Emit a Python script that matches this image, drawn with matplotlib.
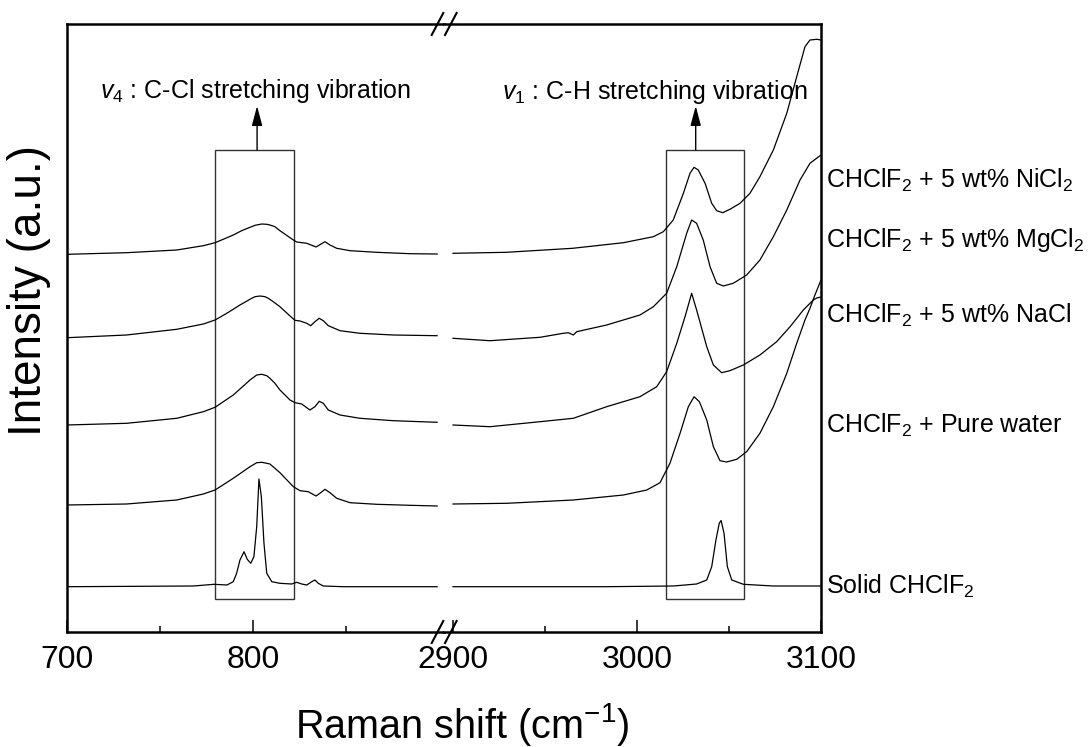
import matplotlib
matplotlib.use("Agg")
import matplotlib.pyplot as plt
import matplotlib.transforms as mtransforms
from matplotlib.patches import Rectangle, FancyArrowPatch
from matplotlib.lines import Line2D

plt.rcParams['font.family'] = ['Liberation Sans', 'DejaVu Sans']
plt.rcParams['mathtext.fontset'] = 'custom'
plt.rcParams['mathtext.rm'] = 'Liberation Sans'
plt.rcParams['mathtext.it'] = 'Liberation Sans:italic'
plt.rcParams['mathtext.bf'] = 'Liberation Sans:bold'

# ---------------- data (Raman shift in cm-1, intensity in a.u. with vertical offsets) --------
solid_low_x = [700, 768, 779, 786, 789.4, 791.2, 793, 795.2, 796.9, 798.8, 800.5, 802, 803.2,
               804.5, 805.9, 807.4, 810.1, 814.5, 820.8, 823.5, 826.2, 828.9, 831.6, 833.3,
               835.1, 837.8, 848.5, 899]
solid_low_y = [45.3, 46, 47.7, 47, 50.3, 58.7, 72, 80.3, 72.7, 68.7, 75.3, 105.3, 153,
               135.3, 88.7, 58.7, 50.3, 48.7, 48, 49.7, 48, 47, 50.3, 52,
               48.7, 46, 45.3, 45.3]
solid_high_x = [2900, 2983.5, 3019.7, 3032.4, 3037.9, 3040.6, 3042.9, 3044.7, 3045.7, 3047.3,
                3049.1, 3051.5, 3057.8, 3074.1, 3100]
solid_high_y = [45.3, 45.3, 46, 48, 52, 65.3, 92, 108.7, 111.5, 98.7,
                65.3, 52, 47.7, 46, 46]

water_low_x = [700, 732, 759, 773.3, 779.6, 789.4, 798.4, 802, 804.7, 807.4, 809.1, 811.8,
               814.5, 821.7, 825.3, 829.7, 833.9, 836, 838.7, 841.4, 845, 852.2, 866.5,
               884.4, 899]
water_low_y = [127, 128, 132, 138, 142, 153.7, 165.3, 169.3, 169.7, 168.7, 168, 163.7,
               159.3, 145.3, 141.3, 140.3, 136, 138.7, 142.7, 139.3, 133.7, 129.3, 127.7,
               126.7, 126]
water_high_x = [2900, 2929.2, 2965.4, 2992.6, 3005.3, 3012.5, 3017.9, 3023.4, 3027.9, 3031,
                3033.9, 3037.9, 3041.5, 3045.1, 3048.7, 3054.2, 3059.6, 3066.8, 3074.1,
                3081.4, 3086.8, 3091.3, 3094, 3096.7, 3100]
water_high_y = [128, 128.7, 132, 137, 142, 149.3, 168.7, 198.7, 225.3, 235.3,
                230.3, 212, 185.3, 171.3, 170, 172.7, 180.3, 198.7, 225.3,
                258.7, 288.7, 312, 323.7, 337, 352]

nacl_low_x = [700, 732, 759, 773.3, 779.6, 789.4, 798.4, 802, 804.7, 807.4, 809.1, 811.8,
              814.5, 819.9, 822.6, 826.2, 830.6, 833.3, 835.6, 837.8, 840.5, 846.8, 857.5,
              875.4, 899]
nacl_low_y = [207, 208.7, 213.7, 220.3, 224.7, 237, 252, 257, 257.7, 256.3, 253.7, 248.7,
              242, 232, 229.3, 228, 222, 225.3, 230.7, 228.7, 222, 217, 213.7,
              211.3, 209.7]
nacl_high_x = [2900, 2920.1, 2947.3, 2965.4, 2983.5, 3001.6, 3010.7, 3016.1, 3021.6, 3026.1,
               3029.7, 3032.4, 3037.9, 3041.5, 3046, 3050.5, 3057.8, 3066.8, 3075.9, 3083.2,
               3090.4, 3095.8, 3097.7, 3100]
nacl_high_y = [207, 205.3, 210.3, 213.7, 225.3, 235.3, 245.3, 260.3, 288.7, 315.3,
               338.7, 322, 285.3, 267, 259.3, 261.3, 267, 277, 290.3, 305.3,
               322, 332, 334, 335]

mg_low_x = [700, 732, 759, 773.3, 779.6, 785.9, 793, 799.3, 801.1, 803.8, 806.5, 808.2,
            810.9, 814.5, 819.9, 822.6, 825.3, 828.9, 831, 833.3, 835.6, 837.8, 840.5,
            846.8, 857.5, 875.4, 899]
mg_low_y = [294.3, 297, 302.7, 308, 312, 318.7, 327, 333.7, 335.3, 336, 335.3, 333.7,
            330.3, 325.3, 316, 311.7, 311, 308.7, 306.3, 310.3, 313.7, 311.3, 306.3,
            301.3, 298.7, 297, 296.3]
mg_high_x = [2900, 2920.1, 2947.3, 2959.9, 2962.7, 2965.4, 2967.2, 2983.5, 3001.6, 3008.9,
             3016.1, 3021.6, 3027, 3029.7, 3032.4, 3036, 3039.7, 3043.3, 3046.9, 3052.3,
             3059.6, 3066.8, 3074.1, 3081.4, 3088.6, 3094, 3100]
mg_high_y = [293.7, 291.3, 294.7, 298.7, 299.3, 297, 300.3, 307, 317, 325.3,
             338.7, 365.3, 398.7, 412, 408.7, 392, 365.3, 348.7, 346, 348.7,
             357, 372, 395.3, 422, 452, 468.7, 477]

ni_low_x = [700, 732, 759, 773.3, 779.6, 784, 789.4, 793.9, 798.4, 801.1, 804.7, 807.4,
            809.1, 811.8, 814.5, 821.7, 823.5, 828.9, 833.9, 838.7, 841.4, 845, 852.2,
            866.5, 884.4, 899]
ni_low_y = [377.7, 379.3, 382, 386.3, 389.3, 392.7, 397, 401.3, 404.7, 406.7, 408, 407.7,
            407, 405.3, 401.3, 392, 390, 388.7, 385, 390.3, 387, 383.7, 381.3,
            379.7, 378.3, 378]
ni_high_x = [2900, 2929, 2965, 2992.6, 3008.9, 3014.3, 3019.7, 3025.2, 3028.8, 3031, 3033.3,
             3037, 3040.6, 3043.3, 3046.6, 3050.5, 3056, 3061.4, 3066.8, 3074.1, 3081.4,
             3086.8, 3091.3, 3094, 3097.7, 3100]
ni_high_y = [378.7, 379.7, 383.7, 389.3, 395.3, 400.3, 412, 438.7, 458.7, 464.7, 462,
             448.7, 428.7, 421.3, 419.3, 422.7, 428.7, 438.7, 455.3, 482, 518.7,
             555.3, 585.3, 592, 592.7, 592]

series_labels = ['Solid CHClF$_2$', 'CHClF$_2$ + Pure water', 'CHClF$_2$ + 5 wt% NaCl',
                 'CHClF$_2$ + 5 wt% MgCl$_2$', 'CHClF$_2$ + 5 wt% NiCl$_2$']
label_y = [38, 199.3, 309.3, 384.7, 443.7]

low_ticks = [700, 800]
low_minor = [750, 850]
high_ticks = [2900, 3000, 3100]
high_minor = [2950, 3050]

# ---------------- figure ----------------
W, H = 1090, 747
fig = plt.figure(figsize=(W / 100, H / 100), dpi=100)
x0, xb, x1 = 67, 444, 821
yb, yt = 632, 24
ax1 = fig.add_axes([x0 / W, 1 - yb / H, (xb - x0) / W, (yb - yt) / H])
ax2 = fig.add_axes([xb / W, 1 - yb / H, (x1 - xb) / W, (yb - yt) / H])

ax1.set_xlim(700, 902.7)
ax2.set_xlim(2895.1, 3100)
for ax in (ax1, ax2):
    ax.set_ylim(0, 608)
    ax.set_yticks([])
    for s in ax.spines.values():
        s.set_linewidth(1.8)
    ax.tick_params(axis='x', which='major', direction='in', length=8.5, width=1.1,
                   labelsize=23, pad=9, top=False)
    ax.tick_params(axis='x', which='minor', direction='in', length=4.3, width=1.1, top=False)
ax1.spines['right'].set_visible(False)
ax2.spines['left'].set_visible(False)

ax1.set_xticks(low_ticks)
ax1.set_xticks(low_minor, minor=True)
ax2.set_xticks(high_ticks)
ax2.set_xticks(high_minor, minor=True)

lw = 0.9
lows = [(solid_low_x, solid_low_y), (water_low_x, water_low_y), (nacl_low_x, nacl_low_y),
        (mg_low_x, mg_low_y), (ni_low_x, ni_low_y)]
highs = [(solid_high_x, solid_high_y), (water_high_x, water_high_y), (nacl_high_x, nacl_high_y),
         (mg_high_x, mg_high_y), (ni_high_x, ni_high_y)]
for (lx, ly), (hx, hy) in zip(lows, highs):
    ax1.plot(lx, ly, color='black', lw=lw, solid_joinstyle='round')
    ax2.plot(hx, hy, color='black', lw=lw, solid_joinstyle='round')

# boxes
ax1.add_patch(Rectangle((779.6, 33), 822 - 779.6, 482 - 33, fill=False, ec='#333333', lw=1.0))
ax2.add_patch(Rectangle((3015.8, 33), 3058.2 - 3015.8, 482 - 33, fill=False, ec='#333333', lw=1.0))

# arrows
for ax, xa in ((ax1, 802.2), (ax2, 3031.9)):
    ax.add_patch(FancyArrowPatch((xa, 482), (xa, 526), arrowstyle='-|>,head_length=0.6,head_width=0.16',
                                 mutation_scale=20, color='black', lw=1.0, shrinkA=0, shrinkB=0,
                                 clip_on=False))

ax1.text(717.7, 534, r'$\mathit{v}_4$ : C-Cl stretching vibration', fontsize=18,
         ha='left', va='baseline')
ax2.text(2926.5, 533, r'$\mathit{v}_1$ : C-H stretching vibration', fontsize=18,
         ha='left', va='baseline')

# right-hand labels
trans = mtransforms.blended_transform_factory(ax2.transAxes, ax2.transData)
for lab, yy in zip(series_labels, label_y):
    ax2.text(1.013, yy, lab, transform=trans, fontsize=18, ha='left', va='baseline',
             clip_on=False)

# axis labels
fig.text(462 / W, 1 - 738 / H, r'Raman shift (cm$^{-1}$)', fontsize=28.5, ha='center',
         va='baseline')
fig.text(29 / W, 1 - 291 / H, 'Intensity (a.u.)', fontsize=33, ha='center', va='center',
         rotation=90)

# axis break marks
def seg(p, q):
    fig.add_artist(Line2D([p[0] / W, q[0] / W], [1 - p[1] / H, 1 - q[1] / H],
                          color='black', lw=1.5, transform=fig.transFigure))

for yc in (yt, yb):
    seg((431.7, yc + 11), (443.3, yc - 11))
    seg((445.0, yc + 11), (456.6, yc - 11))

fig.savefig('out.png', dpi=100)
